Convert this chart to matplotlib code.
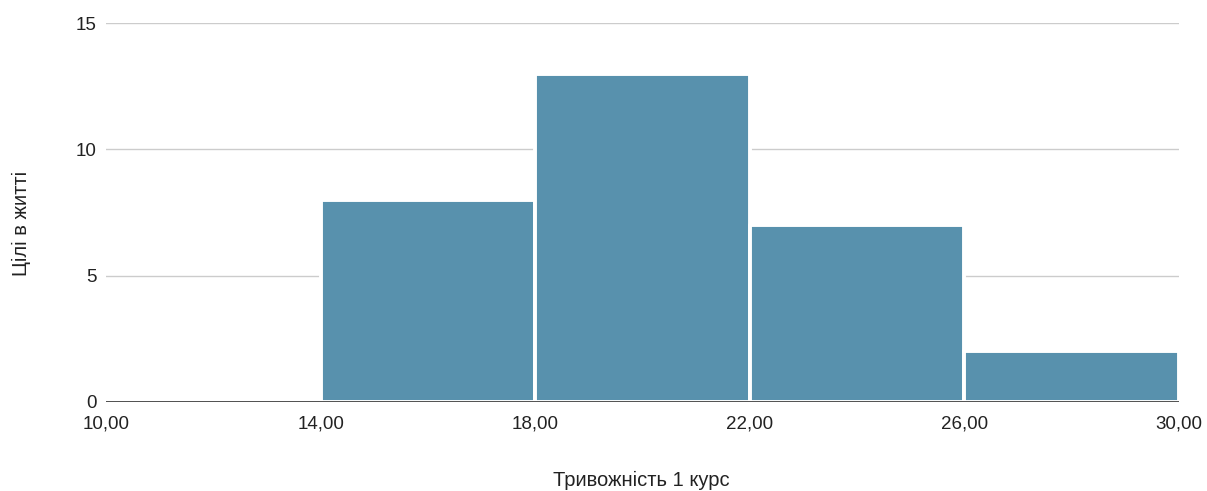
import matplotlib.pyplot as plt
from matplotlib.ticker import FuncFormatter

# histogram bins (Тривожність 1 курс) and counts
bin_edges = [10, 14, 18, 22, 26, 30]
counts = [0, 8, 13, 7, 2]
y_ticks = [0, 5, 10, 15]

bar_color = '#5891ad'
text_color = '#222222'

plt.rcParams['font.family'] = ['Liberation Sans', 'DejaVu Sans']

fig = plt.figure(figsize=(12.07, 4.91), dpi=100)
ax = fig.add_axes([106/1207, 1-402/491, (1179-106)/1207, (402-23)/491])

lefts = bin_edges[:-1]
widths = [b - a for a, b in zip(bin_edges[:-1], bin_edges[1:])]
for x0, w, c in zip(lefts, widths, counts):
    if c > 0:
        ax.bar(x0, c, width=w, align='edge', color=bar_color,
               edgecolor='white', linewidth=2.8, joinstyle='round', zorder=2)

ax.set_xlim(bin_edges[0], bin_edges[-1])
ax.set_ylim(0, 15)
ax.set_xticks(bin_edges)
ax.xaxis.set_major_formatter(FuncFormatter(lambda v, p: f'{v:.2f}'.replace('.', ',')))
ax.set_yticks(y_ticks)

ax.grid(axis='y', color='#cccccc', linewidth=1, zorder=0)
ax.axhline(0, color='#333333', linewidth=1.2, zorder=3)
for s in ax.spines.values():
    s.set_visible(False)
ax.tick_params(axis='both', length=0, labelsize=13.5, colors=text_color)
ax.tick_params(axis='y', pad=6.5)
ax.tick_params(axis='x', pad=10)

fig.text(641/1207, 1-480/491, 'Тривожність 1 курс', fontsize=14.5,
         color=text_color, ha='center', va='center')
fig.text(21/1207, 1-223/491, 'Цілі в житті', fontsize=14.5, rotation=90,
         color=text_color, ha='center', va='center')

fig.savefig('out.png', dpi=100)
